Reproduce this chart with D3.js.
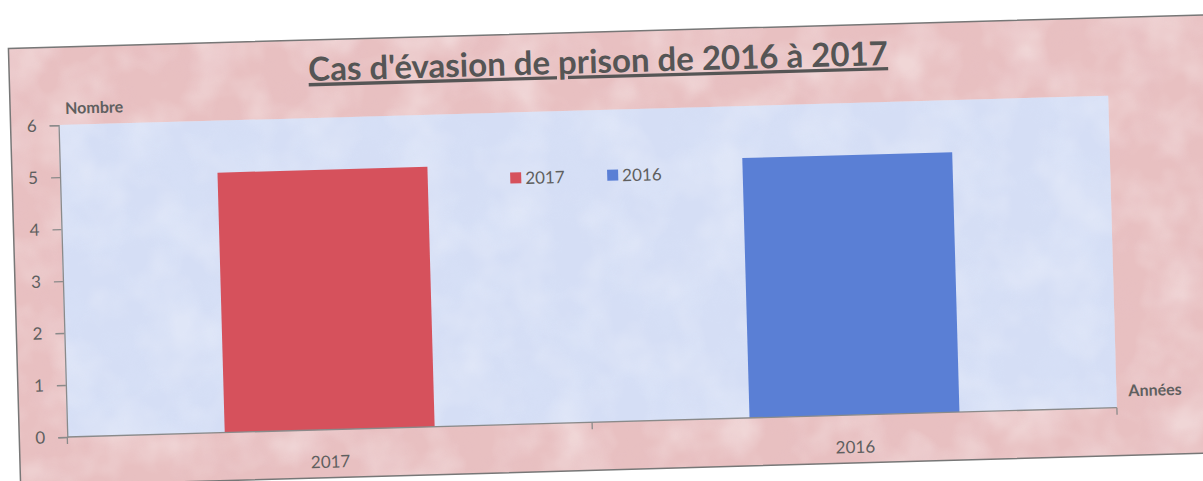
<!DOCTYPE html>
<html>
<head>
<meta charset="utf-8">
<script src="https://cdn.jsdelivr.net/npm/d3@7"></script>
<style>
  html, body { margin: 0; padding: 0; background: #ffffff; }
  svg { display: block; }
</style>
</head>
<body>
<svg id="chart" width="1203" height="481"></svg>
<script>
// data
var categories = ["2017", "2016"];
var counts = [5, 5];
var barColors = ["#d6515c", "#5a7fd5"];
var yTicks = [0, 1, 2, 3, 4, 5, 6];
var legendLabels = ["2017", "2016"];

var plot = { left: 62, right: 1112, top: 110, bottom: 422 };
var FONT = "Lato, 'Open Sans', sans-serif";
var GREY = "#5f5f5f";

var svg = d3.select("#chart");

// paper-ish textures: one light, one dark mottle
var defs = svg.append("defs");
function mottle(id, seed, freq, r, gr, b) {
	var f = defs.append("filter").attr("id", id)
		.attr("x", 0).attr("y", 0).attr("width", 1).attr("height", 1);
	f.append("feTurbulence").attr("type", "fractalNoise")
		.attr("baseFrequency", freq).attr("numOctaves", 3).attr("seed", seed);
	f.append("feColorMatrix").attr("type", "matrix")
		.attr("values", "0 0 0 0 " + r + "  0 0 0 0 " + gr + "  0 0 0 0 " + b + "  0 0 0 -2.2 1.35");
}
mottle("lightMottle", 4, 0.02, 1, 1, 1);
mottle("pinkMottle", 9, 0.03, 0.80, 0.52, 0.55);
mottle("blueMottle", 11, 0.025, 0.70, 0.78, 0.95);

// whole sheet is scanned slightly tilted
var g = svg.append("g").attr("transform", "rotate(-1.6, 601, 240)");

// outer frame (pink)
g.append("rect")
	.attr("x", 14).attr("y", 32)
	.attr("width", 1210).attr("height", 438)
	.attr("fill", "#e8c0c1");
g.append("rect")
	.attr("x", 14).attr("y", 32)
	.attr("width", 1210).attr("height", 438)
	.attr("opacity", 0.35)
	.attr("filter", "url(#lightMottle)");
g.append("rect")
	.attr("x", 14).attr("y", 32)
	.attr("width", 1210).attr("height", 438)
	.attr("opacity", 0.3)
	.attr("filter", "url(#pinkMottle)");
g.append("rect")
	.attr("x", 14).attr("y", 32)
	.attr("width", 1210).attr("height", 438)
	.attr("fill", "none")
	.attr("stroke", "#777777").attr("stroke-width", 1.5);

// plot area (light blue)
var pw = plot.right - plot.left, ph = plot.bottom - plot.top;
g.append("rect")
	.attr("x", plot.left).attr("y", plot.top)
	.attr("width", pw).attr("height", ph)
	.attr("fill", "#d5def5");
g.append("rect")
	.attr("x", plot.left).attr("y", plot.top)
	.attr("width", pw).attr("height", ph)
	.attr("opacity", 0.25)
	.attr("filter", "url(#lightMottle)");
g.append("rect")
	.attr("x", plot.left).attr("y", plot.top)
	.attr("width", pw).attr("height", ph)
	.attr("opacity", 0.25)
	.attr("filter", "url(#blueMottle)");

var x = d3.scaleBand()
	.domain(categories)
	.range([plot.left, plot.right])
	.paddingInner(0.6)
	.paddingOuter(0.3);

var y = d3.scaleLinear()
	.domain([0, 6])
	.range([plot.bottom, plot.top]);

// bars
g.selectAll("rect.bar")
	.data(categories)
	.enter().append("rect")
	.attr("class", "bar")
	.attr("x", function(d) { return x(d); })
	.attr("width", x.bandwidth())
	.attr("y", function(d, i) { return y(counts[i]); })
	.attr("height", function(d, i) { return y(0) - y(counts[i]); })
	.attr("fill", function(d, i) { return barColors[i]; });

// y axis
var yAxis = g.append("g")
	.attr("transform", "translate(" + plot.left + ",0)")
	.call(d3.axisLeft(y).tickValues(yTicks).tickFormat(d3.format("d")).tickSize(9).tickPadding(13));
yAxis.select(".domain").attr("stroke", "#8a8a8a").attr("stroke-width", 1.3);
yAxis.selectAll(".tick line").attr("stroke", "#8a8a8a").attr("stroke-width", 1.3);
yAxis.selectAll(".tick text")
	.attr("fill", GREY).style("font-family", FONT).style("font-size", "17px");

// x axis, ticks between categories like the office chart
var xAxis = g.append("g")
	.attr("transform", "translate(0," + plot.bottom + ")");
xAxis.append("line")
	.attr("x1", plot.left).attr("x2", plot.right)
	.attr("stroke", "#8a8a8a").attr("stroke-width", 1.3);
var bounds = [plot.left, plot.left + pw / 2, plot.right];
xAxis.selectAll("line.sep")
	.data(bounds)
	.enter().append("line")
	.attr("class", "sep")
	.attr("x1", function(d) { return d; }).attr("x2", function(d) { return d; })
	.attr("y1", 0).attr("y2", 7)
	.attr("stroke", "#8a8a8a").attr("stroke-width", 1.3);
xAxis.selectAll("text.cat")
	.data(categories)
	.enter().append("text")
	.attr("class", "cat")
	.attr("x", function(d) { return x(d) + x.bandwidth() / 2; })
	.attr("y", 38)
	.attr("text-anchor", "middle")
	.attr("fill", GREY)
	.style("font-family", FONT).style("font-size", "17px")
	.text(function(d) { return d; });

// axis titles
g.append("text")
	.attr("x", 69).attr("y", 99)
	.attr("fill", GREY)
	.style("font-family", FONT).style("font-size", "16px").style("font-weight", "bold")
	.text("Nombre");
g.append("text")
	.attr("x", 1124).attr("y", 411)
	.attr("fill", GREY)
	.style("font-family", FONT).style("font-size", "16px").style("font-weight", "bold")
	.text("Années");

// title, underlined
g.append("text")
	.attr("x", 603).attr("y", 73)
	.attr("text-anchor", "middle")
	.attr("fill", "#555555")
	.style("font-family", FONT).style("font-size", "33px").style("font-weight", "bold")
	.style("text-decoration", "underline")
	.text("Cas d'évasion de prison de 2016 à 2017");

// legend
var legend = g.append("g").attr("transform", "translate(512,176)");
var item = legend.selectAll("g.item")
	.data(legendLabels)
	.enter().append("g")
	.attr("class", "item")
	.attr("transform", function(d, i) { return "translate(" + (i * 97) + ",0)"; });
item.append("rect")
	.attr("x", 0).attr("y", -6)
	.attr("width", 11).attr("height", 11)
	.attr("fill", function(d, i) { return barColors[i]; });
item.append("text")
	.attr("x", 15).attr("y", 0)
	.attr("dy", "0.35em")
	.attr("fill", GREY)
	.style("font-family", FONT).style("font-size", "17px")
	.text(function(d) { return d; });
</script>
</body>
</html>
